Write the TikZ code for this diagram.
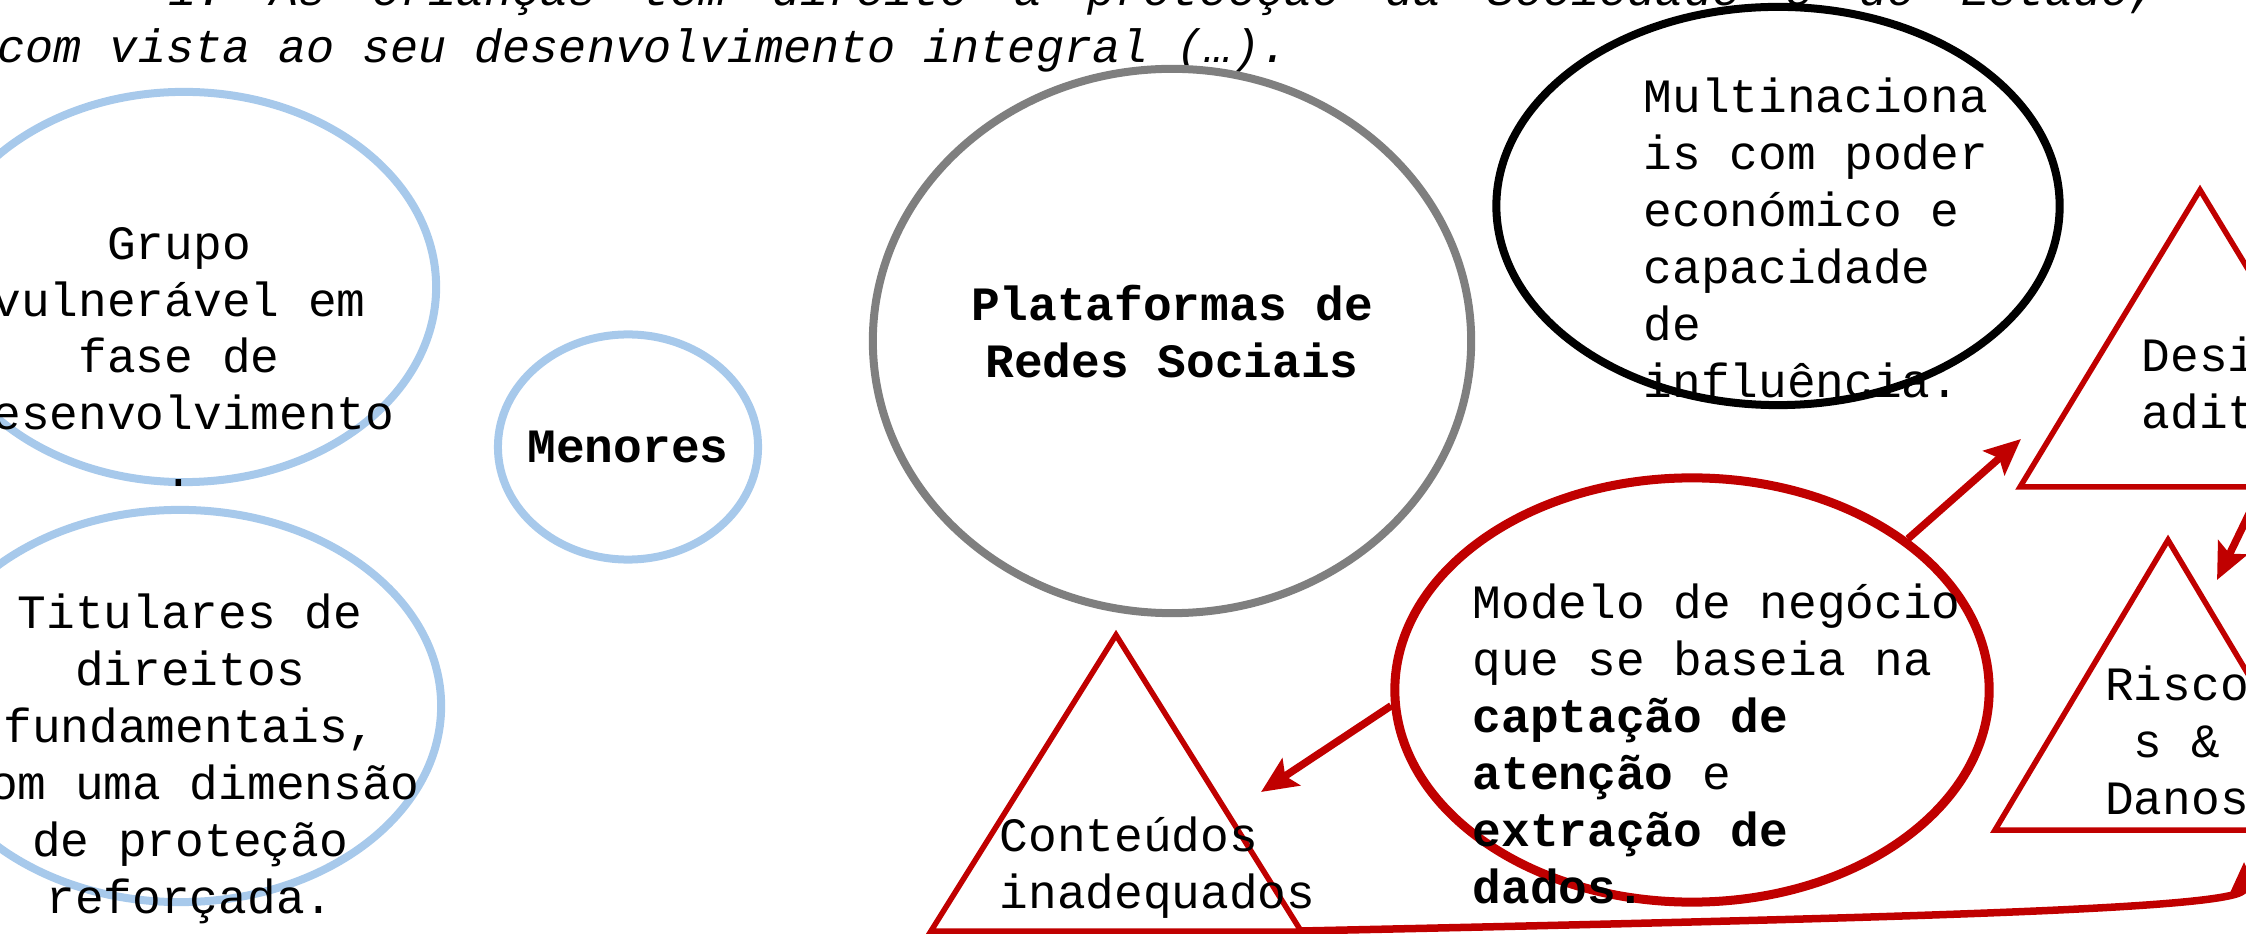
\documentclass[tikz,border=0pt]{standalone}
\usepackage{fontspec}
\setmainfont{Liberation Mono}
\usepackage{tikz}
\usetikzlibrary{positioning, shapes.geometric, arrows.meta, calc}
\definecolor{softblue}{HTML}{A7C9EB}
\definecolor{riskred}{HTML}{C00000}
\definecolor{midgrey}{HTML}{7F7F7F}
\newcommand{\Mono}{\fontsize{13.6}{16.2}\selectfont}
\newcommand{\Quote}{\fontsize{13.3}{16.2}\selectfont\itshape}
\tikzset{
    bubble/.style={ellipse, draw, inner sep=0pt, line width=0.08cm},
    minor/.style={bubble, draw=softblue},
    platform/.style={bubble, draw=midgrey},
    power/.style={bubble, draw=black},
    model/.style={bubble, draw=riskred, line width=0.09cm},
    tri/.style={draw=riskred, line width=0.055cm, line join=miter},
    link/.style={draw=riskred, line width=0.075cm, -{Stealth[length=0.36cm, width=0.32cm, inset=0.07cm]}},
    txt/.style={inner sep=0pt, font=\Mono},
}

\begin{document}
\begin{tikzpicture}[x=0.01cm, y=-0.01cm]
    \useasboundingbox (0,0) rectangle (2246,934);

    % quote
    \node[txt, font=\Quote, anchor=base west] (quote1) at (168,6)
      {\makebox[19.88cm][s]{1.\ As crianças têm direito à protecção da Sociedade e do Estado,}};
    \node[txt, font=\Quote, anchor=base west] (quote2) at (-3,63)
      {com vista ao seu desenvolvimento integral (…).};

    % left side
    \node[minor, minimum width=5.04cm, minimum height=3.90cm] (grupo) at (184,287) {};
    \node[txt, align=center] (grupo-txt) at (179,357)
      {Grupo\\vulnerável em\\fase de\\desenvolvimento\\.};
    \node[minor, minimum width=5.22cm, minimum height=3.92cm] (titulares) at (180,706) {};
    \node[txt, align=center] (titulares-txt) at (190,759)
      {Titulares de\\direitos\\fundamentais,\\com uma dimensão\\de proteção\\reforçada.};
    \node[minor, minimum width=2.60cm, minimum height=2.25cm] (menores) at (628,447) {};
    \node[txt, font=\Mono\bfseries] (menores-txt) at (628,447) {Menores};

    % platforms
    \node[platform, minimum width=5.98cm, minimum height=5.44cm] (redes) at (1172,341) {};
    \node[txt, font=\Mono\bfseries, align=center] (redes-txt) at (1172,332) {Plataformas de\\Redes Sociais};
    \node[power, minimum width=5.63cm, minimum height=3.98cm] (multi) at (1778,206) {};
    \node[txt, align=left, anchor=west] (multi-txt) at (1643,238)
      {Multinaciona\\is com poder\\económico e\\capacidade\\de\\influência.};

    % business model
    \node[model, minimum width=5.94cm, minimum height=4.24cm] (modelo) at (1692,690) {};
    \node[txt, align=left, anchor=west] (modelo-txt) at (1472,744)
      {Modelo de negócio\\que se baseia na\\\textbf{captação de}\\\textbf{atenção} e\\\textbf{extração de}\\\textbf{dados.}};

    % risks
    \coordinate (cont-top) at (1116,635);
    \coordinate (desi-top) at (2200,190);
    \coordinate (risc-top) at (2168,540);
    \draw[tri] (cont-top) -- ++(-185,296) -- ++(370,0) -- cycle;
    \draw[tri] (desi-top) -- ++(-180,297) -- ++(360,0) -- cycle;
    \draw[tri] (risc-top) -- ++(-173,290) -- ++(346,0) -- cycle;
    \node[txt, align=left, anchor=west] (cont-txt) at (999,868) {Conteúdos\\inadequados};
    \node[txt, align=left, anchor=west] (desi-txt) at (2141,383) {Design\\aditivo};
    \node[txt, align=center] (risc-txt) at (2177,740) {Risco\\s \&\\Danos};

    \coordinate (desi-in) at (2021,439);
    \coordinate (desi-out) at (2262,487);
    \coordinate (risc-in) at (2217,580);
    \coordinate (risc-low) at (2244,862);
    \coordinate (cont-in) at (1261,792);
    \coordinate (cont-base) at (1301,931);

    \draw[link] (modelo.35) -- (desi-in);
    \draw[link] (desi-out) -- (risc-in);
    \draw[link] (modelo.183) -- (cont-in);
    \draw[link] (cont-base) .. controls (1950,917) and (2244,908) .. (risc-low);

\end{tikzpicture}
\end{document}
